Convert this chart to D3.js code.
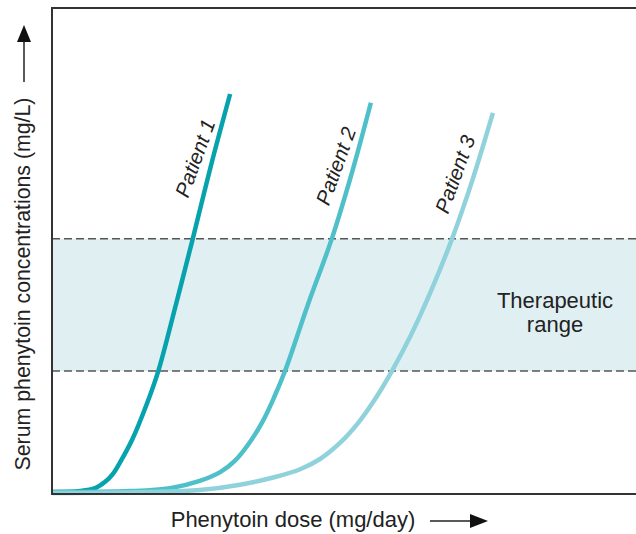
<!DOCTYPE html>
<html>
<head>
<meta charset="utf-8">
<script src="https://cdn.jsdelivr.net/npm/d3@7"></script>
<style>
  body { margin: 0; background: #fff; }
  svg { display: block; font-family: "Liberation Sans", Arial, sans-serif; }
</style>
</head>
<body>
<svg id="chart" width="636" height="534"></svg>
<script>
// dose on x (arbitrary units 0-100), serum level on y (0-100)
const patients = ["Patient 1", "Patient 2", "Patient 3"];
const colors = ["#06a2ad", "#4fc0ca", "#8fd2db"];
const p1 = [[0,0.4],[4.8,0.6],[7.4,1.2],[9.1,2.5],[10.4,4.1],[11.6,6.4],[13.7,11.1],[16.1,18.1],[18.2,25.3],[21.2,38.9],[24.1,52.5],[27.2,67.5],[30.5,82.3]];
const p2 = [[0,0.4],[13.4,0.6],[20.2,1.2],[25.3,2.7],[28.8,4.5],[31.3,6.8],[33.9,10.7],[36.1,15.0],[38.0,19.8],[39.9,25.3],[43.8,38.9],[47.9,52.5],[51.4,66.3],[54.6,80.5]];
const p3 = [[0,0.2],[16.8,0.4],[25.3,0.8],[32.2,1.9],[38.2,3.5],[42.5,5.1],[45.9,7.2],[49.3,10.5],[52.4,14.6],[55.3,19.5],[58.2,25.3],[61.3,32.3],[64.9,41.8],[68.5,52.5],[72.1,65.0],[75.5,78.4]];
const series = [p1, p2, p3];
const labelPos = [[24.5,69.1],[48.6,67.5],[69.0,65.8]];
const therapeutic = [25.3, 52.5];
const rangeText = ["Therapeutic", "range"];

const svg = d3.select("#chart");
const m = {left:52, top:8, right:0, bottom:40};
const W = 636, H = 534;
const x = d3.scaleLinear().domain([0,100]).range([m.left, W-m.right]);
const y = d3.scaleLinear().domain([0,100]).range([H-m.bottom, m.top]);

// therapeutic band
svg.append("rect")
    .attr("x", x(0)).attr("width", x(100)-x(0))
    .attr("y", y(therapeutic[1])).attr("height", y(therapeutic[0])-y(therapeutic[1]))
    .attr("fill", "#e0eff2");
svg.selectAll(".dash").data(therapeutic).join("line")
    .attr("class","dash")
    .attr("x1", x(0)).attr("x2", x(100))
    .attr("y1", d=>y(d)).attr("y2", d=>y(d))
    .attr("stroke", "#555").attr("stroke-width", 1.5)
    .attr("stroke-dasharray", "8,4");

svg.append("text")
    .attr("x", 555).attr("y", y(d3.mean(therapeutic)))
    .attr("text-anchor", "middle").attr("fill", "#222").attr("font-size", 22)
    .selectAll("tspan").data(rangeText).join("tspan")
    .attr("x", 555).attr("dy", (d,i)=> i ? "1.1em" : "0.15em")
    .text(d=>d);

// curves
let line = d3.line().x(d=>x(d[0])).y(d=>y(d[1])).curve(d3.curveCatmullRom.alpha(0.5));
svg.selectAll(".curve").data(series).join("path")
    .attr("class","curve")
    .attr("d", line)
    .attr("fill","none")
    .attr("stroke", (d,i)=>colors[i])
    .attr("stroke-width", 4.5)
    .attr("stroke-linecap","butt");

svg.selectAll(".plabel").data(patients).join("text")
    .attr("class","plabel")
    .attr("transform", (d,i)=>"translate("+x(labelPos[i][0])+","+y(labelPos[i][1])+") rotate(-70)")
    .attr("text-anchor","middle").attr("dy","0.35em")
    .attr("font-style","italic").attr("font-size", 20.5).attr("fill","#222")
    .text(d=>d);

// frame
svg.append("path")
    .attr("d", "M"+x(100)+","+y(100)+"H"+x(0)+"V"+y(0)+"H"+x(100))
    .attr("fill","none").attr("stroke","#333").attr("stroke-width",2);

// axis titles with arrows
svg.append("text")
    .attr("x", 293).attr("y", 527)
    .attr("text-anchor","middle").attr("font-size", 22).attr("fill","#222")
    .text("Phenytoin dose (mg/day)");
svg.append("line").attr("x1",430).attr("x2",472).attr("y1",521).attr("y2",521)
    .attr("stroke","#222").attr("stroke-width",1.5);
svg.append("path").attr("d","M488,521L470,514L470,528Z").attr("fill","#111");

svg.append("text")
    .attr("transform","translate(30,284) rotate(-90)")
    .attr("text-anchor","middle").attr("font-size", 21.3).attr("fill","#222")
    .text("Serum phenytoin concentrations (mg/L)");
svg.append("line").attr("x1",24).attr("x2",24).attr("y1",82).attr("y2",40)
    .attr("stroke","#222").attr("stroke-width",1.5);
svg.append("path").attr("d","M24,25L17,42L31,42Z").attr("fill","#111");
</script>
</body>
</html>
